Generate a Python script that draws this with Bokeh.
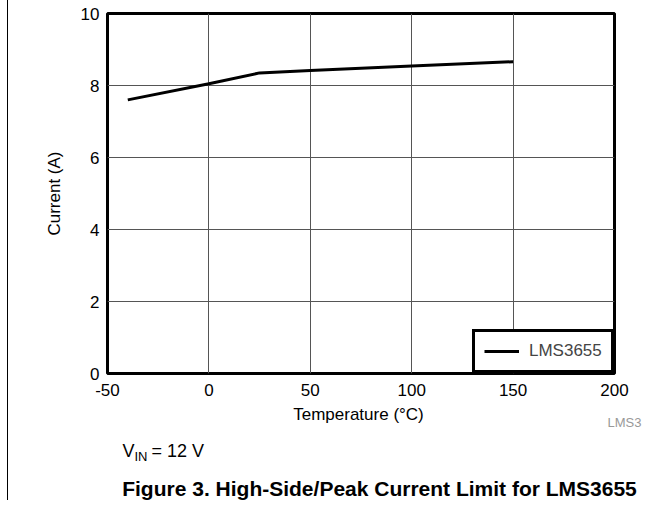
from bokeh.plotting import figure
from bokeh.models import FixedTicker, Range1d, Legend, LegendItem
from bokeh.layouts import column
from bokeh.core.properties import value
from bokeh.embed import file_html
from bokeh.resources import INLINE

# Data
temperature = [-40, 0, 25, 50, 100, 150]
current = [7.6, 8.05, 8.35, 8.42, 8.54, 8.66]
series_name = "LMS3655"
x_ticks = [-50, 0, 50, 100, 150, 200]
x_tick_labels = ["-50", "0", "50", "100", "150", "200"]
y_ticks = [0, 2, 4, 6, 8, 10]

FONT = "Liberation Sans"
W = 660
H1 = 403

p = figure(width=W, height=H1, output_backend="svg", toolbar_location=None,
           x_range=Range1d(-50, 200), y_range=Range1d(0, 10),
           min_border_left=99, min_border_right=54, min_border_top=13, min_border_bottom=H1 - 373)
p.frame_align = False

p.outline_line_color = "black"
p.outline_line_width = 3
p.outline_line_alpha = 1.0
p.background_fill_color = "white"
p.border_fill_color = "white"

for ax in (p.xaxis[0], p.yaxis[0]):
    ax.axis_line_color = None
    ax.major_tick_line_color = None
    ax.minor_tick_line_color = None
    ax.major_tick_in = 0
    ax.major_tick_out = 0
    ax.minor_tick_in = 0
    ax.minor_tick_out = 0
    ax.major_label_text_font = FONT
    ax.major_label_text_font_size = "17px"
    ax.major_label_text_font_style = "normal"
    ax.major_label_text_color = "black"
    ax.axis_label_text_font = FONT
    ax.axis_label_text_font_size = "17px"
    ax.axis_label_text_font_style = "normal"
    ax.axis_label_text_color = "black"

p.xaxis.ticker = FixedTicker(ticks=x_ticks)
p.xaxis.major_label_overrides = dict(zip(x_ticks, x_tick_labels))
p.yaxis.ticker = FixedTicker(ticks=y_ticks)
p.xaxis.major_label_standoff = 10
p.yaxis.major_label_standoff = 8
p.yaxis.axis_label = "Current (A)"
p.yaxis.axis_label_standoff = 14

p.xgrid.ticker = FixedTicker(ticks=x_ticks)
p.ygrid.ticker = FixedTicker(ticks=y_ticks)
for g in (p.xgrid[0], p.ygrid[0]):
    g.grid_line_color = "#555555"
    g.grid_line_width = 1

r = p.line(temperature, current, line_color="black", line_width=3)

legend = Legend(items=[LegendItem(label=series_name, renderers=[r])],
                location="bottom_right", margin=0, padding=9,
                glyph_width=35, label_standoff=10, label_width=73,
                border_line_color="black", border_line_width=3, border_line_alpha=1.0,
                label_text_font=FONT, label_text_font_size="17px",
                background_fill_alpha=1.0)
p.add_layout(legend, "center")

# Lower panel with the texts below the chart (data units = page pixels)
q = figure(width=W, height=500 - H1, output_backend="svg", toolbar_location=None,
           x_range=Range1d(8, 8 + W), y_range=Range1d(500, H1),
           min_border=0, x_axis_type=None, y_axis_type=None)
q.frame_align = False
q.grid.visible = False
q.outline_line_color = None
q.background_fill_color = "white"
q.border_fill_color = "white"

def txt(x, y, s, size, align="left", baseline="alphabetic", color="black", style="normal"):
    q.text(x=[x], y=[y], text=[s], text_font=value(FONT), text_font_size=value(size),
           text_align=align, text_baseline=baseline, text_color=color,
           text_font_style=style)

txt(358, 414, "Temperature (°C)", "17px", align="center", baseline="middle")
txt(607, 422, "LMS3", "13px", baseline="middle", color="#999999")
txt(122, 450, "V", "18px")
txt(134, 456, "IN", "13px")
txt(151, 450, "= 12 V", "18px")
txt(379, 488, "Figure 3. High-Side/Peak Current Limit for LMS3655", "21px",
    align="center", baseline="middle", style="bold")

layout = column(p, q, styles={"margin-left": "7px", "border-left": "1px solid black"})

open("out.html", "w").write(file_html(layout, INLINE))
